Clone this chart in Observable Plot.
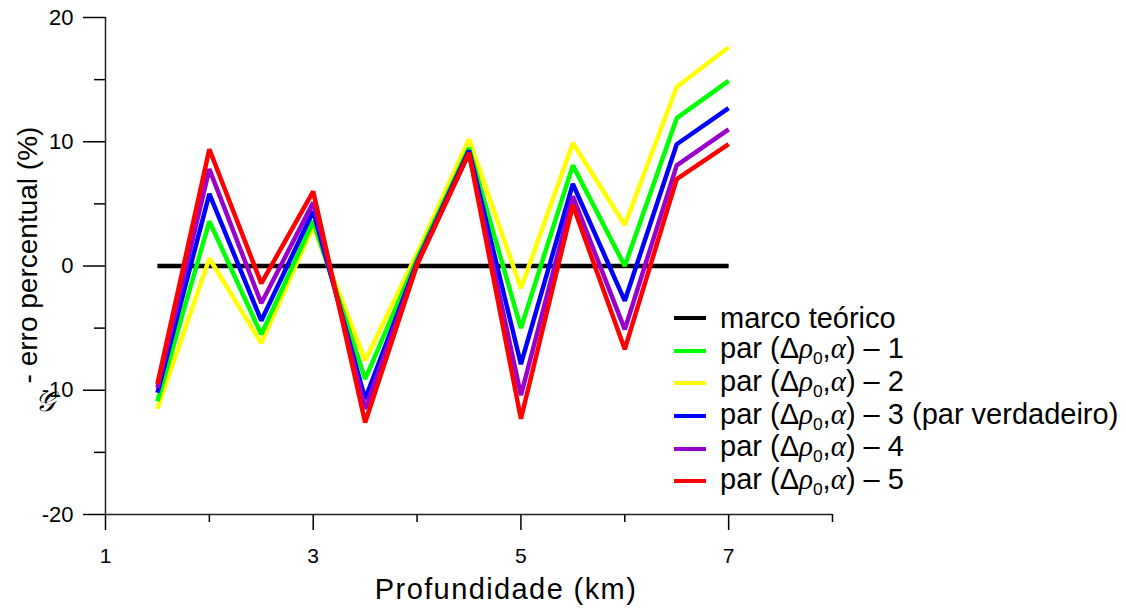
<!DOCTYPE html>
<html>
<head>
<meta charset="utf-8">
<script src="https://cdn.jsdelivr.net/npm/d3@7"></script>
<script src="https://cdn.jsdelivr.net/npm/@observablehq/plot@0.6"></script>
<style>
  body { margin: 0; background: white; }
  #wrap { position: relative; width: 1126px; height: 608px; font-family: "Liberation Sans", Arial, sans-serif; }
  #legend { position: absolute; left: 674px; top: 302px; font-size: 29px; color: #000; }
  #legend .row { display: flex; align-items: center; height: 32.6px; white-space: nowrap; }
  #legend .sw { width: 32px; height: 4px; margin-right: 14px; }
  #legend i { font-family: "Liberation Serif", "DejaVu Serif", serif; font-style: italic; }
  #legend sub { font-size: 0.6em; vertical-align: -0.35em; }
</style>
</head>
<body>
<div id="wrap"></div>
<script>
const depth = [1.5, 2, 2.5, 3, 3.5, 4, 4.5, 5, 5.5, 6, 6.5, 7];
const marco = [0, 0, 0, 0, 0, 0, 0, 0, 0, 0, 0, 0];
const par1 = [-10.9, 3.6, -5.5, 3.6, -9.1, 0.6, 9.5, -5.0, 8.1, 0.0, 11.9, 14.9];
const par2 = [-11.5, 0.6, -6.2, 3.2, -7.6, 1.0, 10.2, -1.8, 9.9, 3.3, 14.4, 17.6];
const par3 = [-10.2, 5.8, -4.4, 4.4, -10.7, 0.3, 9.3, -7.9, 6.6, -2.8, 9.8, 12.7];
const par4 = [-9.8, 7.8, -3.0, 5.1, -11.5, 0.2, 9.1, -10.4, 5.6, -5.1, 8.1, 11.0];
const par5 = [-9.5, 9.4, -1.4, 6.0, -12.6, 0.1, 9.1, -12.3, 4.9, -6.7, 7.0, 9.8];

const seriesNames = ["marco teórico", "par (Δρ0,α) – 1", "par (Δρ0,α) – 2", "par (Δρ0,α) – 3 (par verdadeiro)", "par (Δρ0,α) – 4", "par (Δρ0,α) – 5"];
const seriesValues = [marco, par1, par2, par3, par4, par5];
const seriesColors = ["#000000", "#00ff00", "#ffff00", "#0000ff", "#9900cc", "#ff0000"];
// draw order: black, yellow, green, blue, purple, red
const drawOrder = [0, 2, 1, 3, 4, 5];

const xMajor = [1, 3, 5, 7];
const xMinor = [2, 4, 6, 8];
const yMajor = [-20, -10, 0, 10, 20];
const yMinor = [-15, -5, 5, 15];

const rows = [];
drawOrder.forEach(si => {
  depth.forEach((d, i) => rows.push({series: seriesNames[si], x: d, y: seriesValues[si][i], color: seriesColors[si]}));
});

const chart = Plot.plot({
  width: 1126,
  height: 608,
  marginLeft: 105,
  marginRight: 294,
  marginTop: 17,
  marginBottom: 94,
  style: {fontFamily: "'Liberation Sans', Arial, sans-serif", fontSize: "21px", background: "white", color: "black"},
  x: {domain: [1, 8]},
  y: {domain: [-20, 20]},
  marks: [
    Plot.axisY({ticks: yMajor, tickSize: 22, tickPadding: 10, label: null, strokeWidth: 1.5, fontSize: 22, tickFormat: d => String(d)}),
    Plot.axisY({ticks: yMinor, tickSize: 11, label: null, strokeWidth: 1.5, tickFormat: () => ""}),
    Plot.axisX({ticks: xMajor, tickSize: 16, tickPadding: 18, label: null, strokeWidth: 1.5, fontSize: 21, tickFormat: d => String(d)}),
    Plot.axisX({ticks: xMinor, tickSize: 8, label: null, strokeWidth: 1.5, tickFormat: () => ""}),
    Plot.ruleX([1], {stroke: "#222", strokeWidth: 1.5}),
    Plot.ruleY([-20], {stroke: "#222", strokeWidth: 1.5}),
    Plot.line(rows, {x: "x", y: "y", z: "series", stroke: "color", strokeWidth: 4.5, strokeLinejoin: "miter", strokeLinecap: "butt"}),
    Plot.text(["- erro percentual (%)"], {frameAnchor: "left", dx: -77, dy: -11, rotate: -90, textAnchor: "middle", lineAnchor: "middle", fontSize: 28}),
    Plot.text(["𝒢"], {frameAnchor: "left", dx: -61, dy: 136, textAnchor: "middle", lineAnchor: "middle", fontSize: 28, fontStyle: "italic", fontFamily: "'DejaVu Serif', serif"}),
    Plot.text(["Profundidade (km)"], {frameAnchor: "bottom", dx: 37, dy: 75, textAnchor: "middle", lineAnchor: "middle", fontSize: 29})
  ]
});

// fine typographic adjustments
d3.select(chart).selectAll("g[aria-label='y-axis tick label'] text").attr("font-size", 22);
d3.select(chart).selectAll("g[aria-label='x-axis tick label'] text").attr("font-size", 21);
d3.select(chart).selectAll("text").filter(function() { return this.textContent === "Profundidade (km)"; }).style("letter-spacing", "1.4px");

const wrap = document.getElementById("wrap");
wrap.appendChild(chart);

const legend = document.createElement("div");
legend.id = "legend";
const legendHtml = [
  "marco teórico",
  "par (Δ<i>ρ</i><sub>0</sub>,<i>α</i>) – 1",
  "par (Δ<i>ρ</i><sub>0</sub>,<i>α</i>) – 2",
  "par (Δ<i>ρ</i><sub>0</sub>,<i>α</i>) – 3 (par verdadeiro)",
  "par (Δ<i>ρ</i><sub>0</sub>,<i>α</i>) – 4",
  "par (Δ<i>ρ</i><sub>0</sub>,<i>α</i>) – 5"
];
legendHtml.forEach((h, i) => {
  const row = document.createElement("div");
  row.className = "row";
  row.innerHTML = `<span class="sw" style="background:${seriesColors[i]}"></span><span>${h}</span>`;
  legend.appendChild(row);
});
wrap.appendChild(legend);
</script>
</body>
</html>
